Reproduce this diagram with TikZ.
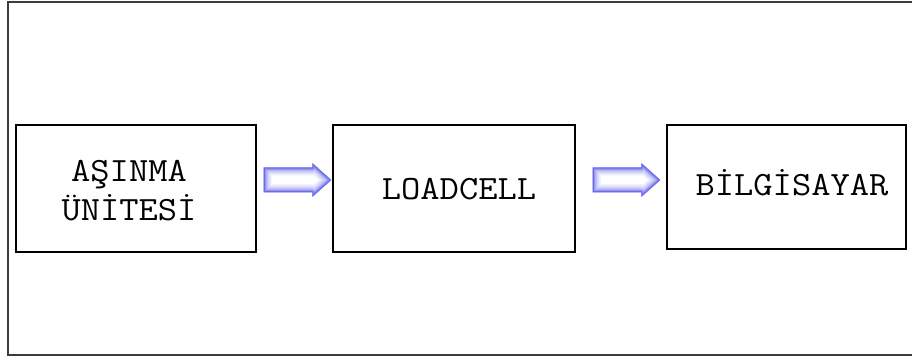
\documentclass[tikz,border=0pt]{standalone}
\usepackage{fontspec}
\usepackage{graphicx}
\usetikzlibrary{calc}
\tikzset{
  blockbox/.style={draw=black, line width=1.4pt, inner sep=0pt},
  lbl/.style={font=\ttfamily\fontsize{34}{39}\selectfont, align=center, inner sep=0pt},
}
\newcommand{\wide}[1]{\scalebox{1.1}[1]{#1}}
\newcommand{\glowarrow}[2]{% #1 tail middle, #2 tip
  \begin{scope}
    \path[clip] ($#1+(0,12.5)$) -- ($#2+(-19,12.5)$) -- ($#2+(-19,17)$) -- #2 -- ($#2+(-19,-17)$) -- ($#2+(-19,-12.5)$) -- ($#1+(0,-12.5)$) -- cycle;
    \fill[white] ($#1+(-5,-30)$) rectangle ($#2+(5,30)$);
    \foreach \w/\o in {16/0.10,12/0.14,8/0.2,5/0.3,2.5/0.5}{
      \draw[color={rgb,255:red,70;green,70;blue,230}, opacity=\o, line width=\w pt, line join=round]
        ($#1+(0,12.5)$) -- ($#2+(-19,12.5)$) -- ($#2+(-19,17)$) -- #2 -- ($#2+(-19,-17)$) -- ($#2+(-19,-12.5)$) -- ($#1+(0,-12.5)$) -- cycle;
    }
  \end{scope}
}
\begin{document}
\begin{tikzpicture}[x=1pt,y=1pt]
  \useasboundingbox (0,0) rectangle (912,358);
  % outer frame (right side runs off the picture)
  \draw[line width=2pt, color={rgb,255:red,60;green,60;blue,60}] (920,356) -- (8,356) -- (8,3) -- (920,3);
  % boxes
  \node[blockbox, minimum width=240pt, minimum height=127pt] (b1) at (136,169.5) {};
  \node[blockbox, minimum width=242pt, minimum height=127pt] (b2) at (454,169.5) {};
  \node[blockbox, minimum width=239pt, minimum height=124pt] (b3) at (786.5,171) {};
  % labels
  \node[lbl] (t1) at (129,167.5) {\wide{AŞINMA}\\\wide{ÜNİTESİ}};
  \node[lbl] (t2) at (459,169) {\wide{LOADCELL}};
  \node[lbl] (t3) at (792,175) {\wide{BİLGİSAYAR}};
  % arrows
  \coordinate (a1s) at ($(b1.east|-0,178)+(7,0)$);
  \coordinate (a1t) at ($(b2.west|-0,178)+(-1,0)$);
  \coordinate (a2s) at ($(b2.east|-0,178)+(17,0)$);
  \coordinate (a2t) at ($(b3.west|-0,178)+(-6,0)$);
  \glowarrow{(a1s)}{(a1t)}
  \glowarrow{(a2s)}{(a2t)}
\end{tikzpicture}
\end{document}
